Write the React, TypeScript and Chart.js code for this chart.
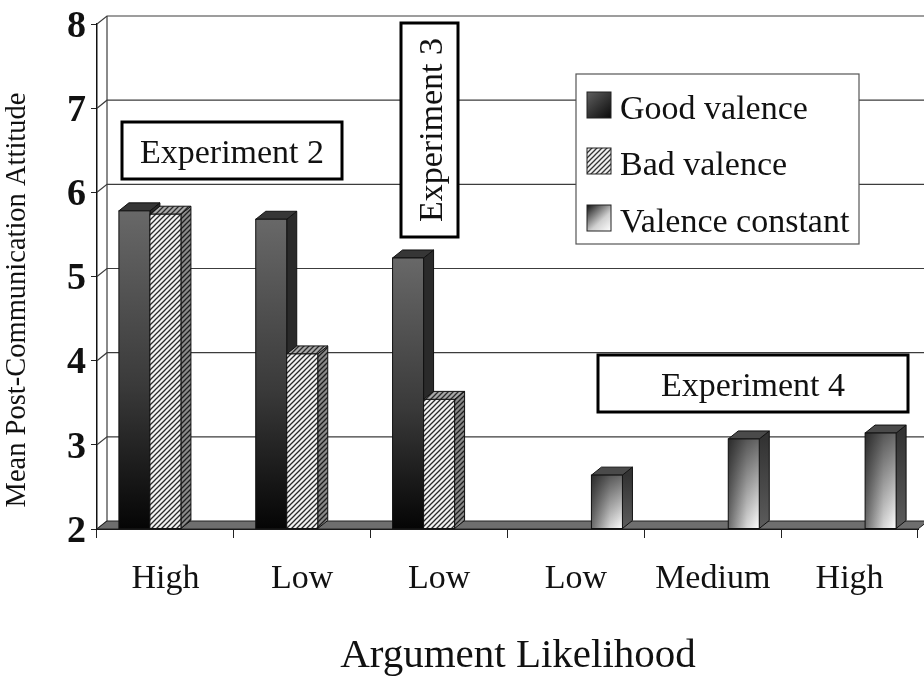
import React, { useEffect, useRef } from 'react';
import { Chart, registerables } from 'chart.js';

Chart.register(...registerables);

// ---------- data ----------
const categories = ['High', 'Low', 'Low', 'Low', 'Medium', 'High'];
const goodValence = [5.78, 5.68, 5.22, null, null, null];
const badValence = [5.74, 4.08, 3.54, null, null, null];
const valenceConstant = [null, null, null, 2.64, 3.07, 3.14];
const seriesLabels = ['Good valence', 'Bad valence', 'Valence constant'];
const yTicks = [2, 3, 4, 5, 6, 7, 8];
const yTitle = 'Mean Post-Communication Attitude';
const xTitle = 'Argument Likelihood';
const experimentLabels = ['Experiment 2', 'Experiment 3', 'Experiment 4'];

const SERIF = '"Liberation Serif", "DejaVu Serif", serif';
const DX = 10;
const DY = -8;

function hatch(ctx: CanvasRenderingContext2D, bg: string, fg: string) {
  const c = document.createElement('canvas');
  c.width = 5;
  c.height = 5;
  const g = c.getContext('2d')!;
  g.fillStyle = bg;
  g.fillRect(0, 0, 5, 5);
  g.strokeStyle = fg;
  g.lineWidth = 1.3;
  g.beginPath();
  g.moveTo(-1, 6); g.lineTo(6, -1);
  g.moveTo(-1, 1); g.lineTo(1, -1);
  g.moveTo(4, 6); g.lineTo(6, 4);
  g.stroke();
  return ctx.createPattern(c, 'repeat')!;
}

function poly(ctx: CanvasRenderingContext2D, pts: number[][], fill: any, stroke = '#111', lw = 1) {
  ctx.beginPath();
  ctx.moveTo(pts[0][0], pts[0][1]);
  for (let i = 1; i < pts.length; i++) ctx.lineTo(pts[i][0], pts[i][1]);
  ctx.closePath();
  if (fill) {
    ctx.fillStyle = fill;
    ctx.fill();
  }
  if (stroke) {
    ctx.strokeStyle = stroke;
    ctx.lineWidth = lw;
    ctx.stroke();
  }
}

function frontFill(ctx: CanvasRenderingContext2D, series: number, x0: number, x1: number, yt: number, yb: number) {
  if (series === 0) {
    const g = ctx.createLinearGradient(0, yt, 0, yb);
    g.addColorStop(0, '#686868');
    g.addColorStop(0.55, '#3a3a3a');
    g.addColorStop(1, '#050505');
    ctx.fillStyle = g;
    ctx.fillRect(x0, yt, x1 - x0, yb - yt);
  } else if (series === 1) {
    ctx.fillStyle = hatch(ctx, '#f2f2f2', '#2a2a2a');
    ctx.fillRect(x0, yt, x1 - x0, yb - yt);
  } else {
    const g = ctx.createLinearGradient(x0, 0, x1, 0);
    g.addColorStop(0, '#6a6a6a');
    g.addColorStop(0.6, '#d8d8d8');
    g.addColorStop(1, '#ffffff');
    ctx.fillStyle = g;
    ctx.fillRect(x0, yt, x1 - x0, yb - yt);
    const v = ctx.createLinearGradient(0, yt, 0, yt + Math.min(200, yb - yt));
    v.addColorStop(0, 'rgba(0,0,0,0.6)');
    v.addColorStop(1, 'rgba(0,0,0,0)');
    ctx.fillStyle = v;
    ctx.fillRect(x0, yt, x1 - x0, yb - yt);
  }
  ctx.strokeStyle = '#111';
  ctx.lineWidth = 1;
  ctx.strokeRect(x0, yt, x1 - x0, yb - yt);
}

const threeD = {
  id: 'threeD',
  beforeDatasetsDraw(chart: any) {
    const { ctx, chartArea, scales } = chart;
    const { left, right, bottom } = chartArea;
    const y = scales.y;
    const W = chart.width;
    ctx.save();
    // back wall gridlines + connectors
    ctx.strokeStyle = '#3c3c3c';
    ctx.lineWidth = 1.2;
    yTicks.forEach((v) => {
      const py = y.getPixelForValue(v);
      ctx.beginPath();
      ctx.moveTo(left, py);
      ctx.lineTo(left + DX, py + DY);
      if (v !== yTicks[0]) ctx.lineTo(W + 20, py + DY);
      ctx.stroke();
    });
    ctx.beginPath();
    ctx.moveTo(left + DX, y.getPixelForValue(yTicks[yTicks.length - 1]) + DY);
    ctx.lineTo(left + DX, y.getPixelForValue(yTicks[0]) + DY);
    ctx.stroke();
    // floor
    poly(ctx, [[left, bottom], [right, bottom], [right + DX, bottom + DY], [left + DX, bottom + DY]], '#6e6e6e', '#222', 1);

    // bars
    const floorY = y.getPixelForValue(yTicks[0]);
    const bars: any[] = [];
    chart.data.datasets.forEach((ds: any, d: number) => {
      const meta = chart.getDatasetMeta(d);
      ds.data.forEach((val: any, j: number) => {
        if (val === null || val === undefined) return;
        const el = meta.data[j];
        const p = el.getProps(['x', 'y', 'base', 'width'], true);
        bars.push({ d, ...p });
      });
    });
    bars.sort((a, b) => a.x - b.x);
    bars.forEach((b) => {
      const x0 = b.x - b.width / 2;
      const x1 = b.x + b.width / 2;
      const yt = b.y;
      const yb = Math.min(b.base, floorY);
      let side: any, top: any;
      if (b.d === 0) {
        side = '#2a2a2a';
        top = '#363636';
      } else if (b.d === 1) {
        side = hatch(ctx, '#8a8a8a', '#1e1e1e');
        top = hatch(ctx, '#a8a8a8', '#2a2a2a');
      } else {
        const g = ctx.createLinearGradient(0, yt, 0, yb);
        g.addColorStop(0, '#333');
        g.addColorStop(1, '#5c5c5c');
        side = g;
        top = '#4a4a4a';
      }
      poly(ctx, [[x1, yb], [x1, yt], [x1 + DX, yt + DY], [x1 + DX, yb + DY]], side);
      poly(ctx, [[x0, yt], [x1, yt], [x1 + DX, yt + DY], [x0 + DX, yt + DY]], top);
      frontFill(ctx, b.d, x0, x1, yt, yb);
    });
    ctx.restore();
  },
  afterDraw(chart: any) {
    const { ctx } = chart;
    ctx.save();
    // y title
    ctx.translate(18, 300);
    ctx.rotate(-Math.PI / 2);
    ctx.fillStyle = '#111';
    ctx.font = `28.5px ${SERIF}`;
    ctx.textAlign = 'center';
    ctx.textBaseline = 'middle';
    ctx.fillText(yTitle, 0, 0);
    ctx.restore();

    // x title
    ctx.save();
    ctx.fillStyle = '#111';
    ctx.font = `41px ${SERIF}`;
    ctx.textAlign = 'center';
    ctx.textBaseline = 'alphabetic';
    ctx.fillText(xTitle, 518, 667);
    ctx.restore();

    // legend
    ctx.save();
    ctx.fillStyle = '#fff';
    ctx.fillRect(576, 74, 283, 170);
    ctx.strokeStyle = '#555';
    ctx.lineWidth = 1.2;
    ctx.strokeRect(576, 74, 283, 170);
    const rows = [92, 148, 205];
    rows.forEach((ry, i) => {
      const mx = 587, mw = 24, mh = 26;
      let f: any;
      if (i === 0) {
        const g = ctx.createLinearGradient(mx, ry, mx + mw, ry + mh);
        g.addColorStop(0, '#606060');
        g.addColorStop(1, '#0a0a0a');
        f = g;
      } else if (i === 1) {
        f = hatch(ctx, '#f0f0f0', '#333');
      } else {
        const g = ctx.createLinearGradient(mx, ry, mx + mw, ry + mh);
        g.addColorStop(0, '#111');
        g.addColorStop(0.6, '#d0d0d0');
        g.addColorStop(1, '#fff');
        f = g;
      }
      ctx.fillStyle = f;
      ctx.fillRect(mx, ry, mw, mh);
      ctx.strokeStyle = '#222';
      ctx.lineWidth = 1;
      ctx.strokeRect(mx, ry, mw, mh);
      ctx.fillStyle = '#111';
      ctx.font = `34px ${SERIF}`;
      ctx.textAlign = 'left';
      ctx.textBaseline = 'alphabetic';
      ctx.fillText(seriesLabels[i], 620, ry + 27);
    });

    // experiment boxes
    const box = (x: number, y: number, w: number, h: number) => {
      ctx.fillStyle = '#fff';
      ctx.fillRect(x, y, w, h);
      ctx.strokeStyle = '#000';
      ctx.lineWidth = 3;
      ctx.strokeRect(x, y, w, h);
    };
    ctx.font = `34px ${SERIF}`;
    ctx.textAlign = 'center';
    ctx.textBaseline = 'alphabetic';
    box(122, 122, 220, 57);
    ctx.fillStyle = '#111';
    ctx.fillText(experimentLabels[0], 232, 163);
    box(598, 355, 310, 57);
    ctx.fillStyle = '#111';
    ctx.fillText(experimentLabels[2], 753, 396);
    box(401, 23, 57, 214);
    ctx.save();
    ctx.translate(429.5, 130);
    ctx.rotate(-Math.PI / 2);
    ctx.fillStyle = '#111';
    ctx.fillText(experimentLabels[1], 0, 12);
    ctx.restore();
    ctx.restore();
  },
};

export default function App() {
  const ref = useRef<HTMLCanvasElement>(null);
  useEffect(() => {
    document.body.style.margin = '0';
    const chart = new Chart(ref.current!, {
      type: 'bar',
      data: {
        labels: categories,
        datasets: [
          { label: seriesLabels[0], data: goodValence, base: yTicks[0], backgroundColor: 'rgba(0,0,0,0)', borderWidth: 0, barPercentage: 1, categoryPercentage: 0.68 },
          { label: seriesLabels[1], data: badValence, base: yTicks[0], backgroundColor: 'rgba(0,0,0,0)', borderWidth: 0, barPercentage: 1, categoryPercentage: 0.68 },
          { label: seriesLabels[2], data: valenceConstant, base: yTicks[0], backgroundColor: 'rgba(0,0,0,0)', borderWidth: 0, barPercentage: 1, categoryPercentage: 0.68 },
        ] as any,
      },
      options: {
        responsive: false,
        animation: false,
        events: [],
        layout: { padding: { left: 0, right: 6, top: 20, bottom: 0 } },
        plugins: { legend: { display: false }, tooltip: { enabled: false } },
        scales: {
          x: {
            offset: true,
            grid: { offset: true, drawOnChartArea: false, drawTicks: true, tickLength: 9, color: '#222' },
            border: { display: true, color: '#111', width: 1 },
            ticks: { color: '#111', font: { family: SERIF, size: 34 }, padding: 21, maxRotation: 0, autoSkip: false },
            title: { display: false, text: xTitle },
            afterFit: (s: any) => { s.height = 151; },
          },
          y: {
            min: yTicks[0],
            max: yTicks[yTicks.length - 1],
            afterBuildTicks: (s: any) => { s.ticks = yTicks.map((v) => ({ value: v })); },
            ticks: { color: '#111', font: { family: SERIF, size: 38, weight: 'bold', lineHeight: 1 }, padding: 5, labelOffset: 3 },
            grid: { drawOnChartArea: false, tickLength: 6, color: '#222' },
            border: { display: true, color: '#111', width: 1.5 },
            afterFit: (s: any) => { s.width = 97; },
          },
        },
      } as any,
      plugins: [threeD],
    });
    return () => chart.destroy();
  }, []);
  return (
    <div style={{ position: 'fixed', left: 0, top: 0, width: 924, height: 680, background: '#fff' }}>
      <canvas ref={ref} width={924} height={680} />
    </div>
  );
}
